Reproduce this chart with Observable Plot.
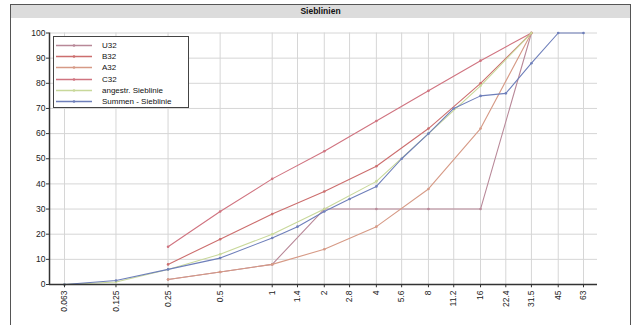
<!DOCTYPE html>
<html><head><meta charset="utf-8">
<script src="https://cdn.jsdelivr.net/npm/d3@7"></script>
<script src="https://cdn.jsdelivr.net/npm/@observablehq/plot@0.6"></script>
<style>
html,body{margin:0;padding:0;background:#fff;width:638px;height:325px;overflow:hidden;font-family:"Liberation Sans",Arial,sans-serif;}
#frame{position:absolute;left:10px;top:4px;width:619px;height:330px;border:1.5px solid #555;border-bottom:none;background:#fff;}
#title{height:13px;background:#dcdcdc;text-align:center;font-size:8.5px;line-height:13px;color:#111;font-weight:bold;}
#chart{position:absolute;left:0;top:13px;}
#legend{position:absolute;left:42px;top:31px;width:134px;height:70px;border:1px solid #444;background:#fff;font-size:8px;color:#111;}
.row{position:absolute;left:0;height:11px;line-height:11px;white-space:nowrap;}
.row svg{position:absolute;left:2px;top:0;}
.row span{position:absolute;left:48px;top:0;}
</style></head>
<body>
<div id="frame"><div id="title">Sieblinien</div><div id="chart"></div><div id="legend"></div></div>
<script>
// x tick labels (sieve sizes, mm)
const sieveTicks = [0.063,0.125,0.25,0.5,1,1.4,2,2.8,4,5.6,8,11.2,16,22.4,31.5,45,63];
const yTicks = [0,10,20,30,40,50,60,70,80,90,100];

// reference grading curves
const gradeSieves = [0.25,0.5,1,2,4,8,16,31.5];
const u32 = [2,5,8,30,30,30,30,100];
const b32 = [8,18,28,37,47,62,80,100];
const a32 = [2,5,8,14,23,38,62,100];
const c32 = [15,29,42,53,65,77,89,100];

// target curve
const targetSieves = [0.063,0.125,0.25,0.5,1,2,4,8,16,31.5];
const target = [0,1,6,12,20,30,41,60,79,100];

// cumulative curve
const sumSieves = sieveTicks;
const summen = [0,1.6,6,10.5,18.5,23,29,34,39,50,60,70,75,76,88,100,100];

const seriesNames = ["U32","B32","A32","C32","angestr. Sieblinie","Summen - Sieblinie"];
const seriesColors = ["#b88898","#cc6e6e","#d69a86","#d07480","#c8d89a","#6e7fba"];

const rows = [];
function add(name, xs, ys){ xs.forEach((x,i)=>rows.push({series:name, x, y:ys[i]})); }
add("U32", gradeSieves, u32);
add("B32", gradeSieves, b32);
add("A32", gradeSieves, a32);
add("C32", gradeSieves, c32);
add("angestr. Sieblinie", targetSieves, target);
add("Summen - Sieblinie", sumSieves, summen);

const xmin = 0.0516, xmax = 75.9;
const colorOf = Object.fromEntries(seriesNames.map((n,i)=>[n, seriesColors[i]]));

const marks = [
  Plot.ruleX(sieveTicks, {x:d=>d, y1:0, y2:100, stroke:"#d6d6d6"}),
  Plot.ruleY(yTicks, {y:d=>d, stroke:"#d6d6d6"}),
];
seriesNames.forEach(n=>{
  const d = rows.filter(r=>r.series===n);
  marks.push(Plot.line(d, {x:"x", y:"y", stroke:colorOf[n], strokeWidth:1.1}));
  marks.push(Plot.dot(d, {x:"x", y:"y", r:1.3, fill:colorOf[n], stroke:null}));
});
marks.push(
  Plot.ruleY([0], {stroke:"#333", strokeWidth:1.5}),
  Plot.ruleX([xmin], {stroke:"#333", strokeWidth:1.5}),
  Plot.ruleX(sieveTicks, {x:d=>d, y1:0, y2:-1.3, stroke:"#333"}),
  Plot.text(sieveTicks, {x:d=>d, y:0, text:d=>String(d), rotate:-90, textAnchor:"end", dy:6, fill:"#222", fontSize:8.5}),
  Plot.axisY(yTicks, {tickSize:3, tickPadding:1, label:null, stroke:"#333", fontSize:8.5})
);

const chart = Plot.plot({
  width: 619, height: 312,
  marginLeft: 38, marginRight: 33, marginTop: 14.5, marginBottom: 46,
  x: {type:"log", domain:[xmin, xmax], axis:null},
  y: {domain:[0,100], axis:null},
  style: {fontFamily:"'Liberation Sans', Arial, sans-serif", fontSize:"8px", color:"#222", background:"#fff"},
  marks
});
document.getElementById("chart").appendChild(chart);

// legend
const lg = document.getElementById("legend");
seriesNames.forEach((n,i)=>{
  const r = document.createElement("div");
  r.className = "row";
  r.style.top = (3 + i*11.2) + "px";
  r.innerHTML = `<svg width="36" height="11"><line x1="0" x2="36" y1="5.5" y2="5.5" stroke="${seriesColors[i]}" stroke-width="1.3"/><circle cx="18" cy="5.5" r="1.3" fill="${seriesColors[i]}"/></svg><span>${n}</span>`;
  lg.appendChild(r);
});
</script>
</body></html>
